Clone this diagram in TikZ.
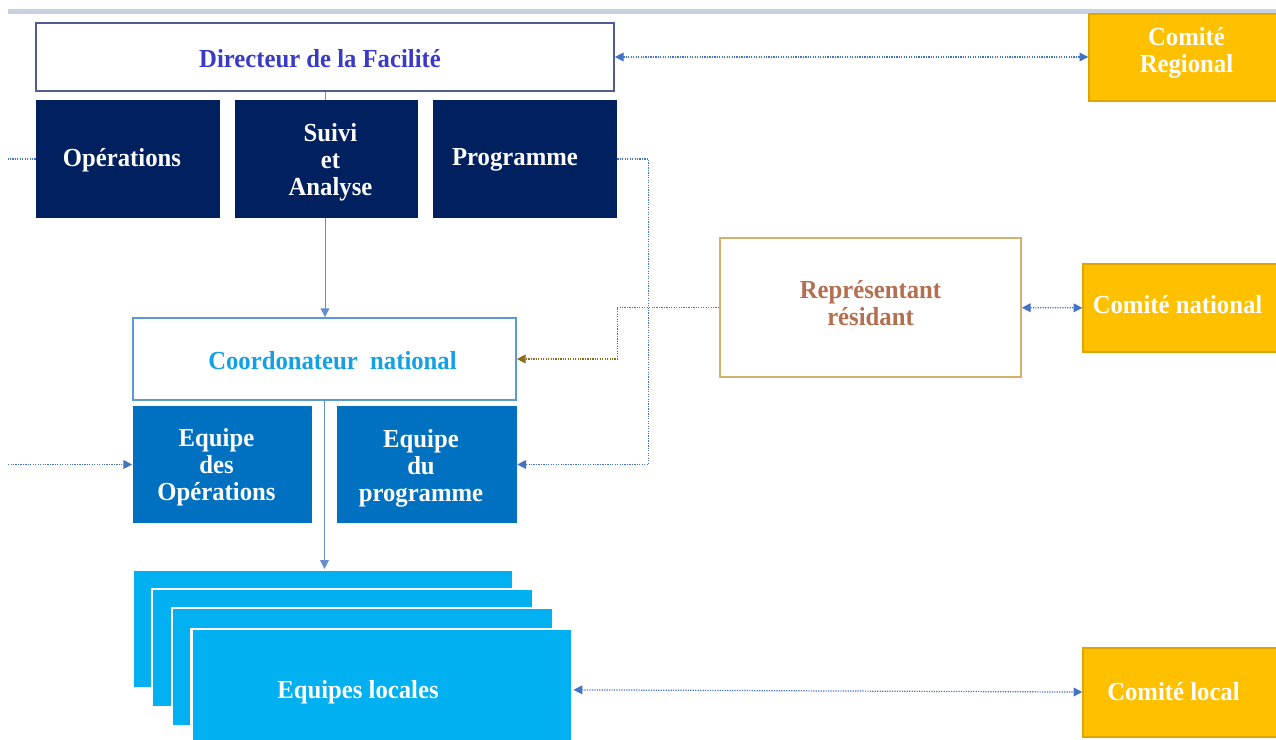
\documentclass[tikz,border=0pt]{standalone}
\usepackage{fontspec}
\setmainfont[FakeStretch=0.95]{Liberation Serif}
\usetikzlibrary{arrows.meta}

\definecolor{navy}{RGB}{0,32,96}
\definecolor{midblue}{RGB}{0,112,192}
\definecolor{skyblue}{RGB}{0,176,240}
\definecolor{gold}{RGB}{255,192,0}
\definecolor{goldline}{RGB}{225,165,0}
\definecolor{dirline}{RGB}{80,92,150}
\definecolor{dirtext}{RGB}{58,58,200}
\definecolor{coordline}{RGB}{91,155,213}
\definecolor{coordtext}{RGB}{20,160,230}
\definecolor{repline}{RGB}{212,176,106}
\definecolor{reptext}{RGB}{180,110,80}
\definecolor{linkblue}{RGB}{68,114,196}
\definecolor{linkbrown}{RGB}{140,109,31}
\definecolor{topband}{RGB}{202,210,224}

\begin{document}
\begin{tikzpicture}[x=0.02cm, y=-0.02cm,
    box/.style={inner sep=0pt, align=center, font=\bfseries\fontsize{14.8}{15.3}\selectfont},
    say/.style n args={3}{label={[box, text=#1, shift={#2}]center:#3}},
    whitebox/.style={box, fill=white, line width=1pt},
    navybox/.style={box, fill=navy, minimum width=3.68cm, minimum height=2.36cm},
    bluebox/.style={box, fill=midblue, minimum width=3.6cm, minimum height=2.34cm},
    card/.style={box, fill=skyblue, draw=white, line width=1.2pt, minimum width=7.62cm, minimum height=2.36cm},
    goldbox/.style={box, fill=gold, draw=goldline, line width=0.8pt},
    tip/.style={-{Triangle[length=5pt, width=5pt]}},
    bitip/.style={{Triangle[length=5pt, width=5pt]}-{Triangle[length=5pt, width=5pt]}},
    link/.style={draw=linkblue, line width=0.7pt, dash pattern=on 0.7pt off 0.7pt},
    solidlink/.style={draw=linkblue!80, line width=0.5pt}
  ]
  \useasboundingbox (0,0) rectangle (1276,740);
  \clip (8,0) rectangle (1276,740);
  \fill[topband] (8,9) rectangle (1276,14);

  % direction
  \node[whitebox, draw=dirline, minimum width=11.56cm, minimum height=1.36cm, say={dirtext}{(-5,2)}{Directeur de la Facilité}] (dir) at (325, 57) {};
  \node[navybox, say={white}{(-6,1)}{Opérations}] (ops) at (128, 159) {};
  \node[navybox, say={white}{(4,3)}{Suivi\\et\\Analyse}] (suivi) at (326.5, 159) {};
  \node[navybox, say={white}{(-10,1)}{Programme}] (prog) at (525, 159) {};

  % niveau national
  \node[whitebox, draw=coordline, minimum width=7.66cm, minimum height=1.64cm, say={coordtext}{(8,2)}{Coordonateur\ \ national}] (coord) at (324.5, 359) {};
  \node[bluebox, say={white}{(-6,3)}{Equipe\\des\\Opérations}] (eqops) at (222.5, 464.5) {};
  \node[bluebox, say={white}{(-6,4)}{Equipe\\du\\programme}] (eqprog) at (427, 464.5) {};
  \node[whitebox, draw=repline, minimum width=6.02cm, minimum height=2.78cm, say={reptext}{(0,-4)}{Représentant\\résidant}] (rep) at (870.5, 307.5) {};

  % niveau local
  \node[card] (loc1) at (323, 629) {};
  \node[card] (loc2) at (342.5, 648) {};
  \node[card] (loc3) at (362.5, 667) {};
  \node[card, minimum height=2.4cm, say={white}{(-24,3)}{Equipes locales}] (loc4) at (382, 689) {};

  % comites
  \node[goldbox, minimum width=3.82cm, minimum height=1.74cm, say={white}{(2,-5)}{Comité\\Regional}] (creg) at (1184.5, 57.5) {};
  \node[goldbox, minimum width=3.94cm, minimum height=1.76cm, say={white}{(-4,-3)}{Comité national}] (cnat) at (1181.5, 308) {};
  \node[goldbox, minimum width=3.94cm, minimum height=1.78cm, say={white}{(-8,-1)}{Comité local}] (cloc) at (1181.5, 692.5) {};

  % liens hierarchiques
  \draw[solidlink] (dir.south) -- (dir.south |- suivi.north);
  \draw[solidlink, tip] (suivi.south -| dir.south) -- (dir.south |- coord.north);
  \draw[solidlink, tip] (coord.south) -- (coord.south |- loc1.north);

  % liens fonctionnels
  \draw[link, tip] (ops.west) -- ++(-32,0) |- (eqops.west);
  \draw[link, tip] (prog.east) -- ++(31,0) |- (eqprog.east);
  \draw[link, draw=linkbrown, tip] (rep.west) -- ++(-102,0) |- (coord.east);
  \draw[link, bitip] (dir.east) -- (creg.west |- dir.east);
  \draw[link, bitip] (rep) -- (cnat);
  \draw[link, bitip] (loc4) -- (cloc);
\end{tikzpicture}
\end{document}
